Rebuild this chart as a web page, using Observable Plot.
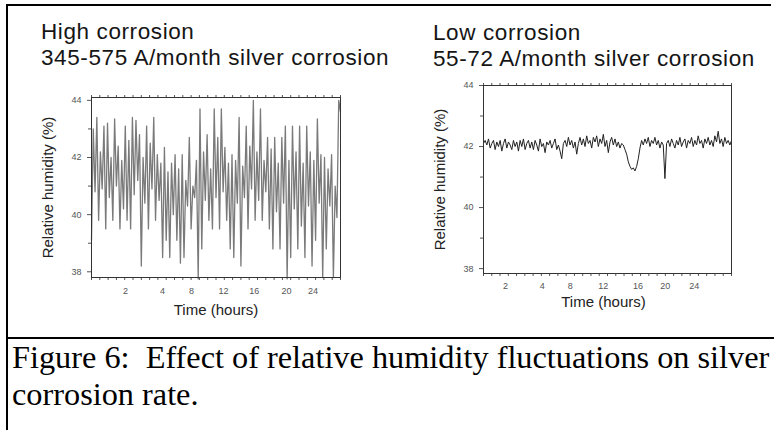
<!DOCTYPE html>
<html>
<head>
<meta charset="utf-8">
<script src="https://cdn.jsdelivr.net/npm/d3@7"></script>
<script src="https://cdn.jsdelivr.net/npm/@observablehq/plot@0.6"></script>
<style>
html, body { margin: 0; padding: 0; background: #fff; }
#root { position: relative; width: 774px; height: 430px; overflow: hidden; font-family: "Liberation Sans", Arial, sans-serif; }
.rule { position: absolute; background: #000; }
.title { position: absolute; font-size: 22.5px; letter-spacing: 0.6px; line-height: 20px; height: 20px; color: #151515; white-space: nowrap; }
.cap { position: absolute; left: 12px; top: 339px; font-family: "Liberation Serif", "Times New Roman", serif; font-size: 32.3px; line-height: 37px; color: #000; white-space: nowrap; }
.plot { position: absolute; }
</style>
</head>
<body>
<div id="root">
  <div class="rule" style="left:6px;top:4px;width:2px;height:426px;"></div>
  <div class="rule" style="left:6px;top:4px;width:765px;height:2px;"></div>
  <div class="rule" style="left:6px;top:337px;width:768px;height:2px;"></div>
  <div class="title" style="left:41px;top:22.2px;">High corrosion</div>
  <div class="title" style="left:41px;top:48.4px;">345-575 A/month silver corrosion</div>
  <div class="title" style="left:433px;top:23.2px;">Low corrosion</div>
  <div class="title" style="left:433px;top:49.4px;">55-72 A/month silver corrosion</div>
  <div id="left" class="plot" style="left:0px;top:80px;"></div>
  <div id="right" class="plot" style="left:390px;top:70px;"></div>
  <div class="cap">Figure 6:&nbsp; Effect of relative humidity fluctuations on silver<br>corrosion rate.</div>
</div>
<script>
// Relative humidity (%) readings, high-corrosion site (in time order)
const highRH = [
  39.1, 43.0, 40.8, 43.4, 39.8, 42.2, 40.9, 43.1, 39.5, 43.2, 40.6, 42.0, 39.8, 43.35, 41.0, 42.4,
  39.5, 41.9, 40.2, 43.1, 39.8, 42.6, 39.5, 43.4, 40.7, 43.3, 41.2, 42.8, 38.2, 42.0, 40.4, 43.1,
  39.5, 42.5, 40.9, 43.4, 39.8, 42.1, 40.5, 41.8, 38.5, 42.35, 39.1, 41.5, 38.5, 41.8, 40.0, 42.1,
  39.1, 41.6, 38.3, 42.1, 38.5, 41.2, 40.3, 42.7, 39.5, 41.0, 40.6, 41.9, 37.75, 43.7, 38.8, 42.2,
  40.5, 42.8, 39.8, 41.6, 39.5, 43.7, 40.6, 42.7, 39.5, 43.7, 40.8, 42.35, 39.8, 41.8, 38.8, 42.1,
  38.5, 41.9, 40.4, 43.4, 38.2, 41.7, 40.6, 43.1, 39.5, 42.4, 40.9, 44.0, 39.8, 42.2, 40.5, 43.7,
  39.8, 41.9, 40.8, 42.7, 39.5, 42.3, 38.8, 42.7, 40.1, 41.8, 38.8, 42.7, 40.4, 43.1, 37.75, 41.9,
  38.5, 43.1, 40.2, 42.2, 38.8, 43.1, 39.6, 41.8, 38.5, 43.1, 40.3, 42.2, 38.2, 41.9, 39.1, 43.35,
  40.4, 42.1, 37.8, 42.0, 38.8, 41.6, 40.3, 42.1, 37.8, 41.0, 39.9, 44.0, 43.6
];
// Relative humidity (%) readings, low-corrosion site (in time order)
const lowRH = [
  42.1, 42.2, 42.05, 42.25, 41.95, 42.1, 42.2, 41.9, 42.15, 42.0,
  42.2, 41.85, 42.1, 42.25, 41.95, 42.15, 42.05, 41.9, 42.2, 42.0,
  42.15, 41.85, 42.2, 42.0, 42.25, 41.9, 42.1, 42.2, 41.95, 42.15,
  41.9, 42.2, 42.05, 41.85, 42.25, 42.0, 42.1, 41.8, 42.15, 42.05,
  42.2, 41.95, 42.1, 42.25, 41.9, 42.05, 41.85, 41.6, 42.1, 42.2,
  42.0, 42.3, 42.05, 42.2, 41.95, 42.15, 41.75, 42.1, 42.3, 42.05,
  42.25, 42.0, 42.35, 42.1, 42.2, 41.95, 42.3, 42.15, 42.35, 42.0,
  42.25, 42.1, 42.4, 42.0, 42.2, 41.8, 42.15, 42.3, 42.05, 42.25,
  42.0, 42.15, 41.95, 42.1, 42.05, 41.9, 41.75, 41.5, 41.35, 41.25,
  41.3, 41.2, 41.35, 41.6, 41.95, 42.2, 42.05, 42.25, 42.1, 42.3,
  42.0, 42.2, 42.1, 42.3, 42.05, 42.2, 41.95, 42.15, 42.05, 40.95,
  42.1, 42.2, 42.0, 42.25, 42.1, 41.95, 42.2, 42.05, 42.3, 42.0,
  42.15, 42.25, 41.95, 42.2, 42.1, 42.3, 42.0, 42.2, 42.05, 42.35,
  42.1, 42.2, 41.95, 42.25, 42.1, 42.3, 42.05, 42.2, 42.0, 42.35,
  42.15, 42.5, 42.1, 42.25, 42.0, 42.3, 42.1, 42.2, 42.05, 42.2
];
// Tick labels of the time axis and where they sit (in minor-tick units)
const hourLabels = ["2", "4", "8", "12", "16", "20", "24"];
const highLabelPos = [4.1, 8.55, 12.05, 15.9, 19.6, 23.5, 26.7];
const lowLabelPos = [2.65, 7.1, 10.5, 14.5, 18.7, 22.0, 25.5];
const minorTicks = d3.range(0, 31);
const yMajor = [38, 40, 42, 44];
const yMinor = [39, 41, 43];

function makePlot({values, labelPos, stroke, strokeWidth, width, height, margins, yDomain, labelDy, xlabDy, xlabDx}) {
  const n = values.length;
  const data = values.map((v, i) => ({t: i * 30 / (n - 1), rh: v}));
  const labels = labelPos.map((p, i) => ({pos: p, label: hourLabels[i]}));
  return Plot.plot({
    width, height,
    marginLeft: margins[0], marginRight: margins[1], marginTop: margins[2], marginBottom: margins[3],
    style: {background: "transparent", fontFamily: "Liberation Sans, Arial, sans-serif", overflow: "visible"},
    x: {domain: [0, 30]},
    y: {domain: yDomain},
    marks: [
      Plot.axisY({ticks: yMajor, tickSize: 4, tickPadding: 6, tickFormat: d => String(d), label: null, fontSize: 9, color: "#555"}),
      Plot.axisY({ticks: yMinor, tickSize: 3, tickFormat: () => "", label: null, color: "#555"}),
      Plot.axisX({anchor: "bottom", ticks: minorTicks, tickSize: 3, tickFormat: () => "", label: null, color: "#555"}),
      Plot.axisX({anchor: "top", ticks: minorTicks, tickSize: 3, tickFormat: () => "", label: null, color: "#555"}),
      Plot.text(labels, {x: "pos", text: "label", frameAnchor: "bottom", dy: labelDy, fontSize: 9, fill: "#555"}),
      Plot.text(["Time (hours)"], {text: d => d, frameAnchor: "bottom", dy: xlabDy, dx: xlabDx, fontSize: 15, fill: "#222"}),
      Plot.text(["Relative humidity (%)"], {text: d => d, frameAnchor: "left", textAnchor: "middle", dx: -43, rotate: -90, fontSize: 15, fill: "#222"}),
      Plot.line(data, {x: "t", y: "rh", stroke, strokeWidth}),
      Plot.frame({stroke: "#333"})
    ]
  });
}

document.getElementById("left").append(makePlot({
  values: highRH, labelPos: highLabelPos, stroke: "#7a7a7a", strokeWidth: 1.3,
  width: 390, height: 250, margins: [91, 50, 17, 53], yDomain: [37.8, 44.1],
  labelDy: 16, xlabDy: 37, xlabDx: 0
}));
document.getElementById("right").append(makePlot({
  values: lowRH, labelPos: lowLabelPos, stroke: "#222", strokeWidth: 1,
  width: 384, height: 260, margins: [93, 43, 15, 57], yDomain: [37.84, 44],
  labelDy: 15, xlabDy: 33, xlabDx: -4
}));
</script>
</body>
</html>
